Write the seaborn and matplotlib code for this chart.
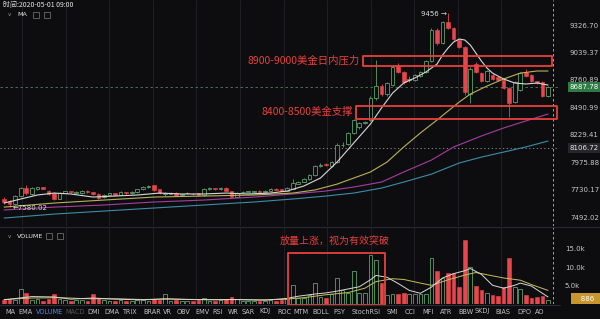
import numpy as np
import pandas as pd
import matplotlib
matplotlib.use("Agg")
import matplotlib.pyplot as plt
import seaborn as sns
from matplotlib.patches import Rectangle
from matplotlib.ticker import FixedLocator, NullLocator, FixedFormatter

sns.set_theme(style="dark")
plt.rcParams["font.family"] = ["DejaVu Sans", "Noto Sans CJK SC"]
CJK = ["Noto Sans CJK SC", "DejaVu Sans"]

# ---------------- data ----------------
opens = [7650, 7630, 7610, 7680, 7750, 7695, 7740, 7752, 7725, 7705,
         7655, 7705, 7718, 7706, 7702, 7722, 7708, 7698, 7665, 7690,
         7700, 7690, 7712, 7700, 7710, 7735, 7752, 7770, 7735, 7692,
         7697, 7705, 7684, 7700, 7698, 7700, 7682, 7736, 7746, 7736,
         7750, 7722, 7672, 7710, 7712, 7714, 7722, 7712, 7720, 7742,
         7735, 7724, 7740, 7785, 7805, 7825, 7860, 7945, 7958, 7940,
         7982, 8132, 8150, 8248, 8300, 8342, 8371, 8582, 8700, 8620,
         8711, 8911, 8841, 8762, 8761, 8800, 8838, 8950, 9274, 9140,
         9358, 9295, 9170, 9100, 8622, 8920, 8830, 8752, 8810, 8790,
         8762, 8682, 8545, 8665, 8842, 8810, 8746, 8742, 8603]
closes = [7625, 7605, 7680, 7745, 7700, 7745, 7752, 7742, 7698, 7655,
          7705, 7718, 7708, 7714, 7722, 7708, 7695, 7660, 7690, 7700,
          7690, 7712, 7700, 7714, 7736, 7755, 7766, 7730, 7702, 7702,
          7703, 7680, 7694, 7703, 7694, 7682, 7742, 7746, 7736, 7750,
          7722, 7670, 7705, 7714, 7717, 7719, 7711, 7720, 7742, 7733,
          7724, 7748, 7790, 7805, 7828, 7862, 7940, 7950, 7953, 7982,
          8136, 8140, 8245, 8368, 8342, 8348, 8582, 8700, 8620, 8731,
          8891, 8841, 8741, 8772, 8810, 8841, 8955, 9274, 9136, 9360,
          9300, 9175, 9100, 8640, 8875, 8842, 8752, 8850, 8772, 8762,
          8682, 8535, 8740, 8830, 8800, 8752, 8728, 8603, 8688]
highs = [7665, 7640, 7690, 7760, 7775, 7755, 7760, 7760, 7730, 7712,
         7712, 7725, 7722, 7720, 7728, 7726, 7712, 7702, 7695, 7706,
         7705, 7718, 7716, 7720, 7742, 7762, 7772, 7776, 7740, 7708,
         7708, 7710, 7698, 7708, 7702, 7704, 7748, 7752, 7750, 7756,
         7755, 7725, 7710, 7722, 7724, 7725, 7726, 7726, 7748, 7748,
         7740, 7752, 7830, 7812, 7835, 7870, 7952, 7972, 7968, 7992,
         8155, 8160, 8258, 8378, 8350, 8365, 8600, 8962, 8722, 8745,
         8902, 8935, 8852, 8800, 8822, 8850, 8962, 9290, 9290, 9372,
         9456, 9305, 9180, 9110, 8890, 8940, 8845, 8862, 8820, 8800,
         8770, 8690, 8752, 8842, 8868, 8818, 8752, 8748, 8700]
lows = [7605, 7580, 7600, 7670, 7690, 7685, 7730, 7735, 7690, 7645,
        7648, 7700, 7700, 7700, 7698, 7700, 7688, 7650, 7658, 7685,
        7684, 7686, 7695, 7696, 7705, 7730, 7746, 7725, 7696, 7676,
        7692, 7675, 7680, 7696, 7690, 7678, 7678, 7732, 7730, 7732,
        7718, 7665, 7668, 7705, 7708, 7710, 7706, 7708, 7716, 7728,
        7720, 7720, 7735, 7780, 7800, 7815, 7850, 7932, 7944, 7935,
        7972, 8118, 8140, 8240, 8290, 8330, 8360, 8560, 8600, 8600,
        8700, 8830, 8722, 8740, 8750, 8792, 8830, 8940, 9120, 9130,
        9288, 9160, 9085, 8612, 8534, 8830, 8740, 8745, 8760, 8750,
        8670, 8400, 8530, 8655, 8790, 8745, 8720, 8590, 8595]
volumes_k = [0.9, 1.2, 0.9, 4.1, 3.0, 1.0, 1.1, 0.8, 1.3, 2.7,
             1.2, 1.0, 0.7, 0.9, 1.0, 0.8, 2.7, 1.4, 1.0, 0.8,
             0.7, 0.9, 0.8, 0.6, 0.9, 1.0, 0.8, 1.3, 1.0, 2.5,
             0.8, 0.9, 0.7, 0.6, 0.7, 0.9, 1.5, 0.8, 0.7, 0.9,
             1.1, 1.8, 1.3, 0.7, 0.6, 0.7, 0.8, 0.7, 0.9, 0.8,
             1.0, 1.2, 5.2, 1.6, 1.6, 2.2, 5.5, 1.9, 1.6, 2.5,
             7.1, 3.6, 3.0, 9.0, 3.0, 3.0, 13.2, 12.0, 5.5, 2.2,
             2.7, 2.7, 3.0, 2.7, 2.7, 2.7, 2.7, 12.4, 9.0, 6.9,
             8.5, 8.5, 4.4, 17.3, 10.0, 4.9, 3.6, 3.0, 2.2, 2.0,
             4.4, 12.4, 4.4, 4.0, 2.2, 1.4, 1.7, 2.0, 0.886]

# moving-average lines (candle index, value)
ma_white_idx = [0, 3, 6, 9, 12, 16, 20, 24, 28, 32, 36, 40, 44, 48, 51, 54, 57, 60, 63, 66,
                68, 70, 72, 74, 76, 78, 79, 80, 81, 82, 83, 84, 85, 86, 87, 88, 90, 92, 94, 96, 98]
ma_white = [7616, 7651, 7686, 7703, 7695, 7668, 7677, 7686, 7703, 7695, 7695, 7703, 7695, 7703,
            7721, 7765, 7836, 7980, 8155, 8332, 8486, 8632, 8731, 8781, 8841, 8921, 9013, 9086,
            9148, 9179, 9169, 9117, 9034, 8952, 8881, 8830, 8771, 8731, 8721, 8731, 8711]
ma_yellow_idx = [0, 9, 18, 27, 36, 45, 52, 56, 60, 63, 66, 69, 72, 75, 78, 82, 84, 87, 90, 93, 96, 98]
ma_yellow = [7581, 7616, 7642, 7668, 7677, 7686, 7703, 7730, 7782, 7836, 7890, 7980, 8118, 8248,
             8371, 8544, 8622, 8701, 8771, 8830, 8851, 8851]
ma_magenta_idx = [0, 9, 18, 27, 36, 45, 52, 58, 63, 68, 72, 77, 81, 86, 90, 94, 98]
ma_magenta = [7556, 7581, 7599, 7625, 7642, 7668, 7695, 7721, 7756, 7800, 7890, 7998, 8118, 8220,
              8295, 8362, 8428]
ma_teal_idx = [0, 9, 18, 27, 36, 45, 52, 58, 63, 68, 72, 77, 82, 86, 90, 94, 98]
ma_teal = [7487, 7521, 7547, 7573, 7599, 7625, 7651, 7677, 7703, 7747, 7800, 7871, 7971, 8025,
           8071, 8118, 8173]

vma_white_idx = [0, 5, 9, 12, 16, 20, 25, 29, 33, 38, 42, 47, 51, 53, 56, 58, 60, 62, 64, 66, 67,
                 69, 71, 73, 75, 77, 79, 81, 83, 84, 86, 88, 90, 92, 93, 95, 97, 98]
vma_white = [1.0, 1.9, 1.8, 1.2, 1.5, 1.2, 1.0, 1.3, 1.1, 1.0, 1.1, 0.9, 1.4, 2.0, 2.6, 2.9, 3.4,
             4.0, 4.6, 6.5, 7.7, 7.2, 5.5, 3.6, 2.8, 4.5, 7.0, 8.2, 9.0, 9.6, 8.0, 5.0, 4.2, 5.0,
             5.6, 4.8, 2.8, 1.8]
vma_yellow_idx = [0, 5, 10, 15, 20, 25, 30, 35, 40, 45, 50, 54, 58, 62, 65, 67, 70, 72, 75, 77,
                  80, 83, 85, 88, 90, 93, 95, 98]
vma_yellow = [1.1, 1.5, 1.6, 1.3, 1.3, 1.1, 1.2, 1.1, 1.1, 1.0, 1.1, 1.6, 2.4, 3.0, 4.2, 6.0, 6.8,
              6.6, 5.6, 5.0, 6.5, 7.8, 8.5, 7.6, 7.0, 6.4, 5.2, 3.6]

price_ticks = [9326.70, 9039.37, 8760.89, 8490.99, 8229.41, 7975.88, 7730.17, 7492.02]
vol_ticks = [5, 10, 15]
vol_tick_labels = ["5.0k", "10.0k", "15.0k"]
last_price = 8687.78
mark_price = 8106.72
high_label, high_idx, high_val = "9456", 80, 9456
low_label, low_idx, low_val = "7580.02", 1, 7580.02
resist_zone = (8900, 9005)
support_zone = (8385, 8505)
resist_text = "8900-9000美金日内压力"
support_text = "8400-8500美金支撑"
vol_text = "放量上涨，视为有效突破"
tabs = ["MA", "EMA", "VOLUME", "MACD", "DMI", "DMA", "TRIX", "BRAR", "VR", "OBV", "EMV", "RSI",
        "WR", "SAR", "KDJ", "ROC", "MTM", "BOLL", "PSY", "StochRSI", "SMI", "CCI", "MFI", "ATR",
        "BBW", "SKDJ", "BIAS", "DPO", "AO"]
tab_x = [5, 18, 36, 65, 87, 104, 122, 143, 163, 177, 195, 212, 228, 242, 259, 277, 293, 312,
         333, 352, 387, 405, 422, 440, 458, 475, 495, 517, 535]

# ---------------- style ----------------
BG = "#0d0d10"
UP = "#5e9e6a"
DOWN = "#e8464c"
BOX = "#e8403c"
GRID = "#222227"

W, H = 600, 319
fig = plt.figure(figsize=(W / 100, H / 100), dpi=100, facecolor=BG)


def fx(x):
    return x / W


def fy(y):
    return 1 - y / H


ax = fig.add_axes([0, fy(226), 558 / W, 226 / H])
axv = fig.add_axes([0, fy(303.5), 558 / W, 76.5 / H])

df = pd.DataFrame({"o": opens, "c": closes, "h": highs, "l": lows, "v": volumes_k})
df["i"] = np.arange(len(df))
up = df["c"] >= df["o"]

for a in (ax, axv):
    a.set_facecolor(BG)
    for s in a.spines.values():
        s.set_visible(False)
    a.set_xlim(-0.74, 99.8)

# vertical grid
grid_x = [3.2, 11.1, 18.9, 26.8, 34.6, 42.5, 50.4, 58.2, 66.1, 73.9, 81.8, 89.6]
for a in (ax, axv):
    a.set_xticks(grid_x)
    a.set_xticklabels([])
    a.tick_params(axis="x", length=0)
    a.grid(False)
    for gx in grid_x:
        a.axvline(gx, color=GRID, lw=0.6, zorder=0)

# ----- price panel -----
ax.set_yscale("log")
ax.set_ylim(7419.6, 9596)

ax.axhline(last_price, color="#4f7f5a", lw=0.6, ls=(0, (3, 3)), zorder=1)
ax.axhline(mark_price, color="#9a9a9a", lw=0.6, ls=(0, (1.5, 3)), zorder=1)

cols = np.where(up, UP, DOWN)
ax.vlines(df["i"], df["l"], df["h"], colors=cols, lw=0.6, zorder=2)
body_h = (df["c"] - df["o"]).abs().clip(lower=2)
body_b = df[["o", "c"]].min(axis=1)
ax.bar(df["i"][up], body_h[up], bottom=body_b[up], width=0.66, facecolor=BG,
       edgecolor=UP, linewidth=0.6, zorder=3)
ax.bar(df["i"][~up], body_h[~up], bottom=body_b[~up], width=0.66, facecolor=DOWN,
       edgecolor=DOWN, linewidth=0.4, zorder=3)

for xs, ys, c, lw in [(ma_teal_idx, ma_teal, "#3a8ea6", 0.8),
                      (ma_magenta_idx, ma_magenta, "#a23fa0", 0.8),
                      (ma_yellow_idx, ma_yellow, "#b9b255", 0.8),
                      (ma_white_idx, ma_white, "#d8d8d8", 0.8)]:
    sns.lineplot(x=xs, y=ys, ax=ax, color=c, linewidth=lw, estimator=None, sort=False,
                 legend=False, zorder=4)
ax.set_xlabel("")
ax.set_ylabel("")

ax.yaxis.tick_right()
ax.yaxis.set_major_locator(FixedLocator(price_ticks))
ax.yaxis.set_minor_locator(NullLocator())
ax.yaxis.set_major_formatter(FixedFormatter([f"{t:.2f}" for t in price_ticks]))
ax.tick_params(axis="y", length=0, pad=8.6, labelsize=5, labelcolor="#c8c8c8")

# zones
ax.add_patch(Rectangle((64.7, resist_zone[0]), 98.7 - 64.7, resist_zone[1] - resist_zone[0],
                       fill=False, ec=BOX, lw=1.3, joinstyle="round", zorder=6))
ax.add_patch(Rectangle((63.4, support_zone[0]), 99.6 - 63.4, support_zone[1] - support_zone[0],
                       fill=False, ec=BOX, lw=1.3, joinstyle="round", zorder=6, clip_on=False))
ax.text(64.0, np.sqrt(resist_zone[0] * resist_zone[1]), resist_text, ha="right", va="center",
        fontsize=7.5, color=BOX, family=CJK, zorder=7)
ax.text(62.9, np.sqrt(support_zone[0] * support_zone[1]), support_text, ha="right", va="center",
        fontsize=7.5, color=BOX, family=CJK, zorder=7)

ax.text(high_idx - 0.3, high_val * 0.9988, high_label + " →", ha="right", va="center",
        fontsize=5, color="#dddddd", zorder=7)
ax.text(low_idx + 0.6, low_val * 0.9992, "←" + low_label, ha="left", va="center",
        fontsize=5, color="#dddddd", zorder=7)

ytr = ax.get_yaxis_transform()
ax.text(1.0215, last_price, f"{last_price:.2f}", transform=ytr, ha="left", va="center",
        fontsize=5, color="white", clip_on=False, zorder=8,
        bbox=dict(boxstyle="square,pad=0.3", fc="#2e7a44", ec="none"))
ax.text(1.0215, mark_price, f"{mark_price:.2f}", transform=ytr, ha="left", va="center",
        fontsize=5, color="#e8e8e8", clip_on=False, zorder=8,
        bbox=dict(boxstyle="square,pad=0.3", fc="#26262a", ec="none"))

ax.axvline(98.9, color="#bbbbbb", lw=0.6, ls=(0, (3, 3)), zorder=5)

# ----- volume panel -----
axv.set_ylim(0, 21.0)
axv.bar(df["i"][up], df["v"][up], width=0.66, facecolor=BG, edgecolor=UP, linewidth=0.6, zorder=3)
axv.bar(df["i"][~up], df["v"][~up], width=0.66, facecolor=DOWN, edgecolor=DOWN, linewidth=0.4,
        zorder=3)
sns.lineplot(x=vma_yellow_idx, y=vma_yellow, ax=axv, color="#c6bf5c", linewidth=0.7,
             estimator=None, sort=False, legend=False, zorder=4)
sns.lineplot(x=vma_white_idx, y=vma_white, ax=axv, color="#d8d8d8", linewidth=0.7,
             estimator=None, sort=False, legend=False, zorder=4)
axv.set_xlabel("")
axv.set_ylabel("")
axv.yaxis.tick_right()
axv.set_yticks(vol_ticks)
axv.set_yticklabels(vol_tick_labels)
axv.tick_params(axis="y", length=0, pad=5, labelsize=5, labelcolor="#c8c8c8")
axv.axvline(98.9, color="#bbbbbb", lw=0.6, ls=(0, (3, 3)), zorder=5)

axv.add_patch(Rectangle((51.2, -0.3), 68.6 - 51.2, 14.1, fill=False, ec=BOX, lw=1.3,
                        joinstyle="round", zorder=6, clip_on=False))
axv.text(59.5, 17.3, vol_text, ha="center", va="center", fontsize=7.2, color=BOX,
         family=CJK, zorder=7)
vtr = axv.get_yaxis_transform()
axv.text(1.028, volumes_k[-1] + 0.4, f"   {volumes_k[-1] * 1000:.0f}   ", transform=vtr,
         ha="left", va="center", fontsize=5, color="white", clip_on=False, zorder=8,
         bbox=dict(boxstyle="square,pad=0.35", fc="#c8962e", ec="none"))

# ----- frame lines / headers -----
fig.add_artist(plt.Line2D([0, 1], [fy(226.5), fy(226.5)], color="#2a2a30", lw=0.8))
fig.add_artist(plt.Line2D([0, fx(560)], [fy(304.5), fy(304.5)], color="#2a2a30", lw=0.8))

fig.text(fx(3), fy(5.5), "时间:2020-05-01 09:00", fontsize=5, color="#e6e6e6", va="center",
         family=CJK)
for y0, name, ix in [(15, "MA", (33, 44)), (236, "VOLUME", (46, 57))]:
    fig.text(fx(8), fy(y0), "v", fontsize=4, color="#9a9a9a", va="center")
    fig.text(fx(17), fy(y0), name, fontsize=4.6, color="#e6e6e6", va="center")
    for x0 in ix:
        fig.add_artist(Rectangle((fx(x0), fy(y0 + 3)), 6 / W, 6 / H, transform=fig.transFigure,
                                 fill=False, ec="#6a6a6a", lw=0.6))

for name, x0 in zip(tabs, tab_x):
    c = "#4f8fe6" if name == "VOLUME" else ("#555555" if name == "MACD" else "#c4c4c4")
    fig.text(fx(x0), fy(311.5), name, fontsize=4.7, color=c, va="center")

fig.savefig("out.png", dpi=100, facecolor=BG)
